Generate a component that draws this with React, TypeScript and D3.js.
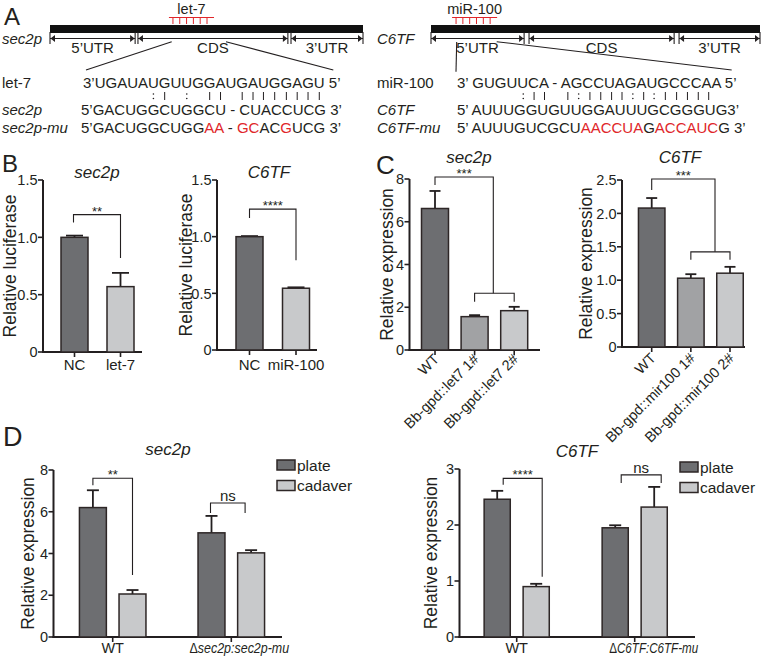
import React from "react";
import * as d3 from "d3";

const FONT = "'Liberation Sans', Arial, Helvetica, sans-serif";
const INK = "#231f20";
const RED = "#e0262a";
const DARK = "#6d6e71";
const MID = "#a1a2a4";
const LIGHT = "#c8c9cb";
const EDGE = "#2d2626";

// ---------- Panel A data ----------
const regionNames = ["5’UTR", "CDS", "3’UTR"];
const leftRegionStart = [0, 28.1, 77.0];
const leftRegionEnd = [27.2, 76.0, 100];
const rightRegionStart = [0, 29.8, 75.4];
const rightRegionEnd = [28.3, 73.9, 100];
const leftSite = [38.0, 52.4];
const rightSite = [6.4, 20.1];
const leftGene = "sec2p";
const rightGene = "C6TF";
const leftMiRNA = "let-7";
const rightMiRNA = "miR-100";

const let7Seq = "3’UGAUAUGUUGGAUGAUGGAGU 5’";
const let7Pairs = "       :| : || ||||||||   ";
const sec2pSeq: [string, number][] = [["5’GACUGGCUGGCU - CUACCUCG 3’", 0]];
const sec2pMuSeq: [string, number][] = [["5’GACUGGCUGG", 0], ["AA", 1], [" - ", 0], ["GC", 1], ["AC", 0], ["G", 1], ["UCG 3’", 0]];
const mir100Seq = "3’ GUGUUCA - AGCCUAGAUGCCCAA 5’";
const mir100Pairs = "       :||   |:||||:|:|||||    ";
const c6tfSeq: [string, number][] = [["5’ AUUUGGUGUUGGAUUUGCGGGUG3’", 0]];
const c6tfMuSeq: [string, number][] = [["5’ AUUUGUCGCU", 0], ["AACCUA", 1], ["G", 0], ["ACCAUC", 1], ["G 3’", 0]];

// ---------- Panel B data ----------
const bTicks = [0, 0.5, 1.0, 1.5];
const bCatsL = ["NC", "let-7"];
const bValsL = [1.0, 0.57];
const bErrL = [0.015, 0.12];
const bCatsR = ["NC", "miR-100"];
const bValsR = [1.0, 0.545];
const bErrR = [0.005, 0.008];
const bSigL = "**";
const bSigR = "****";

// ---------- Panel C data ----------
const cTicksL = [0, 2, 4, 6, 8];
const cCatsL = ["WT", "Bb-gpd::let7 1#", "Bb-gpd::let7 2#"];
const cValsL = [6.62, 1.56, 1.84];
const cErrL = [0.82, 0.07, 0.18];
const cTicksR = [0, 0.5, 1.0, 1.5, 2.0, 2.5];
const cCatsR = ["WT", "Bb-gpd::mir100 1#", "Bb-gpd::mir100 2#"];
const cValsR = [2.08, 1.03, 1.105];
const cErrR = [0.15, 0.06, 0.095];
const cSig = "***";

// ---------- Panel D data ----------
const dSeries = ["plate", "cadaver"];
const dTicksL = [0, 2, 4, 6, 8];
const dGroupsL = ["WT", "sec2p:sec2p-mu"];
const dPlateL = [6.2, 4.99];
const dPlateErrL = [0.83, 0.81];
const dCadL = [2.06, 4.03];
const dCadErrL = [0.19, 0.13];
const dTicksR = [0, 1, 2, 3];
const dGroupsR = ["WT", "C6TF:C6TF-mu"];
const dPlateR = [2.46, 1.95];
const dPlateErrR = [0.15, 0.045];
const dCadR = [0.9, 2.32];
const dCadErrR = [0.05, 0.36];
const dSigL = ["**", "ns"];
const dSigR = ["****", "ns"];

// ---------- helpers ----------
let ctx: CanvasRenderingContext2D | null = null;
function textW(s: string, size: number) {
  if (!ctx) ctx = document.createElement("canvas").getContext("2d");
  ctx!.font = `${size}px 'Liberation Sans', Arial, sans-serif`;
  return ctx!.measureText(s).width;
}

function bandAt(domain: string[], c0: number, c1: number, bw: number) {
  const n = domain.length;
  const step = (c1 - c0) / (n - 1);
  const p = 1 - bw / step;
  return d3.scaleBand<string>().domain(domain).range([c0 - step / 2, c1 + step / 2]).paddingInner(p).paddingOuter(p / 2);
}
const ctr = (x: d3.ScaleBand<string>, k: string) => (x(k) as number) + x.bandwidth() / 2;

function GeneMap({ x0, x1, starts, ends, site, mirna, gene, geneX }: any) {
  const gx = d3.scaleLinear().domain([0, 100]).range([x0, x1]);
  const yl = 38.5;
  const s0 = gx(site[0]), s1 = gx(site[1]);
  const tickXs = d3.range(6).map((i) => s0 + 4 + (i * (s1 - s0 - 11)) / 5);
  return (
    <g>
      <text x={geneX} y={44} fontSize={15} fontStyle="italic">{gene}</text>
      <rect x={x0} y={25} width={x1 - x0} height={8} fill="#111" />
      {regionNames.map((nm, i) => {
        const a = gx(starts[i]), b = gx(ends[i]);
        return (
          <g key={nm}>
            <line x1={a} x2={b} y1={yl} y2={yl} stroke={INK} strokeWidth={1.1} />
            <line x1={a} x2={a} y1={32} y2={44} stroke={INK} strokeWidth={1.1} />
            <line x1={b} x2={b} y1={32} y2={44} stroke={INK} strokeWidth={1.1} />
            <polygon points={`${a + 0.5},${yl} ${a + 5},${yl - 3.5} ${a + 5},${yl + 3.5}`} fill={INK} />
            <polygon points={`${b - 0.5},${yl} ${b - 5},${yl - 3.5} ${b - 5},${yl + 3.5}`} fill={INK} />
            <text x={(a + b) / 2} y={53} fontSize={15} textAnchor="middle">{nm}</text>
          </g>
        );
      })}
      <text x={(s0 + s1) / 2} y={13.5} fontSize={14.5} textAnchor="middle">{mirna}</text>
      <line x1={s0} x2={s1} y1={17.5} y2={17.5} stroke={RED} strokeWidth={1.2} />
      {tickXs.map((t, i) => (
        <line key={i} x1={t} x2={t} y1={17.5} y2={24} stroke={RED} strokeWidth={1} />
      ))}
    </g>
  );
}

function Pairs({ seq, pairs, x0, size }: any) {
  const marks: any[] = [];
  for (let i = 0; i < pairs.length; i++) {
    const c = pairs[i];
    if (c === " ") continue;
    const cx = x0 + textW(seq.slice(0, i), size) + textW(seq[i], size) / 2;
    if (c === "|") marks.push(<line key={i} x1={cx} x2={cx} y1={92} y2={100} stroke={INK} strokeWidth={1} />);
    else
      marks.push(
        <g key={i}>
          <circle cx={cx} cy={94} r={0.8} fill={INK} />
          <circle cx={cx} cy={98.5} r={0.8} fill={INK} />
        </g>
      );
  }
  return <g>{marks}</g>;
}

function Seq({ parts, x, y }: any) {
  return (
    <text x={x} y={y} fontSize={15} style={{ whiteSpace: "pre" }}>
      {parts.map((p: any, i: number) => (
        <tspan key={i} fill={p[1] ? RED : INK}>{p[0]}</tspan>
      ))}
    </text>
  );
}

function YAxis({ y, ticks, x, fmt, label, labelX }: any) {
  const y0 = y(ticks[0]), y1 = y(ticks[ticks.length - 1]);
  return (
    <g>
      <line x1={x} x2={x} y1={y0 + 1} y2={y1} stroke={INK} strokeWidth={2} />
      {ticks.map((t: number) => (
        <g key={t}>
          <line x1={x - 5} x2={x} y1={y(t)} y2={y(t)} stroke={INK} strokeWidth={1.6} />
          <text x={x - 5.5} y={y(t)} dy="0.36em" textAnchor="end" fontSize={14.5}>{fmt(t)}</text>
        </g>
      ))}
      <text transform={`translate(${labelX},${(y0 + y1) / 2}) rotate(-90)`} textAnchor="middle" fontSize={17.5}>{label}</text>
    </g>
  );
}

function XLine({ x0, x1, y0, ticks }: any) {
  return (
    <g>
      <line x1={x0 - 1} x2={x1} y1={y0} y2={y0} stroke={INK} strokeWidth={2} />
      {ticks.map((t: number, i: number) => (
        <line key={i} x1={t} x2={t} y1={y0} y2={y0 + 5} stroke={INK} strokeWidth={1.6} />
      ))}
    </g>
  );
}

function Bar({ x, w, y, v, e, fill, cap }: any) {
  const cx = x + w / 2;
  return (
    <g>
      <line x1={cx} x2={cx} y1={y(v)} y2={y(v + e)} stroke={INK} strokeWidth={1.8} />
      <line x1={cx - cap} x2={cx + cap} y1={y(v + e)} y2={y(v + e)} stroke={INK} strokeWidth={1.8} />
      <rect x={x} y={y(v)} width={w} height={y(0) - y(v)} fill={fill} stroke={EDGE} strokeWidth={1.5} />
    </g>
  );
}

function Bracket({ x1, x2, top, yl, yr, label, ns }: any) {
  return (
    <g>
      <path d={`M${x1},${yl}V${top}H${x2}V${yr}`} fill="none" stroke={INK} strokeWidth={1.1} />
      <text x={(x1 + x2) / 2} y={ns ? top - 2 : top + 1} textAnchor="middle" fontSize={ns ? 15 : 13}>{label}</text>
    </g>
  );
}

function DeltaLabel({ cx, y, name, sx }: any) {
  return (
    <text transform={`translate(${cx},${y}) scale(${sx},1)`} fontSize={14.5} textAnchor="middle">
      <tspan>Δ</tspan>
      <tspan fontStyle="italic">{name}</tspan>
    </text>
  );
}

const fmt1 = (t: number) => (t === 0 ? "0" : t.toFixed(1));
const fmt0 = (t: number) => String(t);

export default function App() {
  // ---- Panel B ----
  const yBL = d3.scaleLinear().domain([0, 1.5]).range([352, 180]);
  const xBL = bandAt(bCatsL, 74.5, 120.5, 27);
  const yBR = d3.scaleLinear().domain([0, 1.5]).range([350, 180]);
  const xBR = bandAt(bCatsR, 249.5, 296, 27);
  const bColors = [DARK, LIGHT];

  // ---- Panel C ----
  const yCL = d3.scaleLinear().domain([0, 8]).range([350, 179]);
  const xCL = bandAt(cCatsL, 435, 514.2, 27);
  const yCR = d3.scaleLinear().domain([0, 2.5]).range([347, 180]);
  const xCR = bandAt(cCatsR, 651.7, 730, 26.5);
  const cColors = [DARK, MID, LIGHT];

  // ---- Panel D ----
  const yDL = d3.scaleLinear().domain([0, 8]).range([637, 470]);
  const x0DL = d3.scaleBand<string>().domain(dGroupsL).range([53.4, 290.6]);
  const x1DL = d3.scaleBand<string>().domain(dSeries).range([19.7, 98.9]).paddingInner(0.32).paddingOuter(0.16);
  const yDR = d3.scaleLinear().domain([0, 3]).range([637, 469]);
  const x0DR = d3.scaleBand<string>().domain(dGroupsR).range([457.7, 693.7]);
  const x1DR = d3.scaleBand<string>().domain(dSeries).range([20, 98]).paddingInner(0.33).paddingOuter(0.165);
  const dColors = [DARK, LIGHT];

  const dBars = (x0: any, x1: any, y: any, groups: string[], plate: number[], pe: number[], cad: number[], ce: number[]) =>
    groups.map((g, gi) => (
      <g key={g}>
        <Bar x={(x0(g) as number) + (x1("plate") as number)} w={x1.bandwidth()} y={y} v={plate[gi]} e={pe[gi]} fill={dColors[0]} cap={6} />
        <Bar x={(x0(g) as number) + (x1("cadaver") as number)} w={x1.bandwidth()} y={y} v={cad[gi]} e={ce[gi]} fill={dColors[1]} cap={6} />
      </g>
    ));
  const sc = (x0: any, x1: any, g: string, s: string) => (x0(g) as number) + (x1(s) as number) + x1.bandwidth() / 2;

  const Legend = ({ x, y }: any) => (
    <g>
      {dSeries.map((s, i) => (
        <g key={s}>
          <rect x={x} y={y + i * 20.5} width={18} height={10} fill={dColors[i]} stroke={EDGE} strokeWidth={1.5} />
          <text x={x + 20} y={y + i * 20.5 + 10.5} fontSize={15.5}>{s}</text>
        </g>
      ))}
    </g>
  );

  return (
    <svg width={762} height={661} style={{ position: "absolute", left: 0, top: 0, background: "#fff" }} fontFamily={FONT} fill={INK}>
      {/* Panel letters */}
      <text x={4} y={25} fontSize={24}>A</text>
      <text x={2} y={172} fontSize={24}>B</text>
      <text x={376} y={174} fontSize={26}>C</text>
      <text x={3} y={446} fontSize={27}>D</text>

      {/* ===== Panel A ===== */}
      <GeneMap x0={50} x1={363} starts={leftRegionStart} ends={leftRegionEnd} site={leftSite} mirna={leftMiRNA} gene={leftGene} geneX={2} />
      <GeneMap x0={431} x1={760} starts={rightRegionStart} ends={rightRegionEnd} site={rightSite} mirna={rightMiRNA} gene={rightGene} geneX={377} />
      <line x1={171.7} y1={41.7} x2={86} y2={70} stroke={INK} strokeWidth={1.1} />
      <line x1={226} y1={41.7} x2={333.3} y2={70} stroke={INK} strokeWidth={1.1} />
      <line x1={456.7} y1={42} x2={456} y2={71.7} stroke={INK} strokeWidth={1.1} />
      <line x1={496.7} y1={41.7} x2={731.7} y2={70} stroke={INK} strokeWidth={1.1} />

      <text x={2} y={88} fontSize={15}>{leftMiRNA}</text>
      <text x={2} y={115} fontSize={15} fontStyle="italic">{leftGene}</text>
      <text x={2} y={133} fontSize={15} fontStyle="italic">{leftGene + "-mu"}</text>
      <Seq parts={[[let7Seq, 0]]} x={83} y={88} />
      <Pairs seq={let7Seq} pairs={let7Pairs} x0={83} size={15} />
      <Seq parts={sec2pSeq} x={81} y={115} />
      <Seq parts={sec2pMuSeq} x={81} y={133} />

      <text x={377} y={88} fontSize={15}>{rightMiRNA}</text>
      <text x={377} y={115} fontSize={15} fontStyle="italic">{rightGene}</text>
      <text x={377} y={133} fontSize={15} fontStyle="italic">{rightGene + "-mu"}</text>
      <Seq parts={[[mir100Seq, 0]]} x={457} y={88} />
      <Pairs seq={mir100Seq} pairs={mir100Pairs} x0={457} size={15} />
      <Seq parts={c6tfSeq} x={457} y={115} />
      <Seq parts={c6tfMuSeq} x={457} y={133} />

      {/* ===== Panel B ===== */}
      <text x={97} y={178} fontSize={17} fontStyle="italic" textAnchor="middle">{leftGene}</text>
      <YAxis y={yBL} ticks={bTicks} x={43} fmt={fmt1} label="Relative luciferase" labelX={16} />
      <XLine x0={43} x1={142} y0={yBL(0)} ticks={bCatsL.map((c) => ctr(xBL, c))} />
      {bCatsL.map((c, i) => (
        <Bar key={c} x={xBL(c)} w={xBL.bandwidth()} y={yBL} v={bValsL[i]} e={bErrL[i]} fill={bColors[i]} cap={8.5} />
      ))}
      {bCatsL.map((c) => (
        <text key={c} x={ctr(xBL, c)} y={370} fontSize={15} textAnchor="middle">{c}</text>
      ))}
      <Bracket x1={ctr(xBL, bCatsL[0]) - 1} x2={ctr(xBL, bCatsL[1])} top={yBL(bValsL[0] + bErrL[0]) - 21} yl={yBL(bValsL[0] + bErrL[0]) - 13} yr={yBL(bValsL[1] + bErrL[1]) - 15} label={bSigL} />

      <text x={269} y={178} fontSize={17} fontStyle="italic" textAnchor="middle">{rightGene}</text>
      <YAxis y={yBR} ticks={bTicks} x={217} fmt={fmt1} label="Relative luciferase" labelX={192} />
      <XLine x0={217} x1={317} y0={yBR(0)} ticks={bCatsR.map((c) => ctr(xBR, c))} />
      {bCatsR.map((c, i) => (
        <Bar key={c} x={xBR(c)} w={xBR.bandwidth()} y={yBR} v={bValsR[i]} e={bErrR[i]} fill={bColors[i]} cap={8.5} />
      ))}
      {bCatsR.map((c) => (
        <text key={c} x={ctr(xBR, c)} y={370} fontSize={15} textAnchor="middle">{c}</text>
      ))}
      <Bracket x1={ctr(xBR, bCatsR[0])} x2={ctr(xBR, bCatsR[1])} top={yBR(bValsR[0] + bErrR[0]) - 27} yl={yBR(bValsR[0] + bErrR[0]) - 18} yr={yBR(bValsR[1] + bErrR[1]) - 27} label={bSigR} />

      {/* ===== Panel C ===== */}
      <text x={469} y={163} fontSize={17} fontStyle="italic" textAnchor="middle">{leftGene}</text>
      <YAxis y={yCL} ticks={cTicksL} x={409.5} fmt={fmt0} label="Relative expression" labelX={393} />
      <XLine x0={409.5} x1={540} y0={yCL(0)} ticks={cCatsL.map((c) => ctr(xCL, c))} />
      {cCatsL.map((c, i) => (
        <Bar key={c} x={xCL(c)} w={xCL.bandwidth()} y={yCL} v={cValsL[i]} e={cErrL[i]} fill={cColors[i]} cap={5.5} />
      ))}
      {cCatsL.map((c) => (
        <text key={c} transform={`translate(${ctr(xCL, c) + 5},${yCL(0) + 10}) rotate(-45)`} fontSize={14.5} textAnchor="end">{c}</text>
      ))}
      <Bracket x1={ctr(xCL, cCatsL[0])} x2={493.3} top={yCL(cValsL[0] + cErrL[0]) - 14} yl={yCL(cValsL[0] + cErrL[0]) - 6} yr={yCL(cValsL[2] + cErrL[2]) - 13.5} label={cSig} />
      <path d={`M${ctr(xCL, cCatsL[1])},${yCL(cValsL[2] + cErrL[2]) - 5}V${yCL(cValsL[2] + cErrL[2]) - 13.5}H${ctr(xCL, cCatsL[2])}V${yCL(cValsL[2] + cErrL[2]) - 5}`} fill="none" stroke={INK} strokeWidth={1.1} />

      <text x={680} y={163} fontSize={17} fontStyle="italic" textAnchor="middle">{rightGene}</text>
      <YAxis y={yCR} ticks={cTicksR} x={622} fmt={fmt1} label="Relative expression" labelX={592} />
      <XLine x0={622} x1={745} y0={yCR(0)} ticks={cCatsR.map((c) => ctr(xCR, c))} />
      {cCatsR.map((c, i) => (
        <Bar key={c} x={xCR(c)} w={xCR.bandwidth()} y={yCR} v={cValsR[i]} e={cErrR[i]} fill={cColors[i]} cap={5.5} />
      ))}
      {cCatsR.map((c) => (
        <text key={c} transform={`translate(${ctr(xCR, c) + 5},${yCR(0) + 12}) rotate(-45)`} fontSize={14.5} textAnchor="end">{c}</text>
      ))}
      <Bracket x1={ctr(xCR, cCatsR[0])} x2={715} top={yCR(cValsR[0] + cErrR[0]) - 19} yl={yCR(cValsR[0] + cErrR[0]) - 8} yr={yCR(cValsR[2] + cErrR[2]) - 15} label={cSig} />
      <path d={`M${ctr(xCR, cCatsR[1])},${yCR(cValsR[2] + cErrR[2]) - 7}V${yCR(cValsR[2] + cErrR[2]) - 15}H${ctr(xCR, cCatsR[2])}V${yCR(cValsR[2] + cErrR[2]) - 7}`} fill="none" stroke={INK} strokeWidth={1.1} />

      {/* ===== Panel D ===== */}
      <text x={168} y={455} fontSize={17} fontStyle="italic" textAnchor="middle">{leftGene}</text>
      <YAxis y={yDL} ticks={dTicksL} x={53.5} fmt={fmt0} label="Relative expression" labelX={34} />
      <XLine x0={53.5} x1={282} y0={yDL(0)} ticks={dGroupsL.map((g) => ctr(x0DL, g))} />
      {dBars(x0DL, x1DL, yDL, dGroupsL, dPlateL, dPlateErrL, dCadL, dCadErrL)}
      <text x={ctr(x0DL, dGroupsL[0])} y={653} fontSize={14.5} textAnchor="middle">{dGroupsL[0]}</text>
      <DeltaLabel cx={ctr(x0DL, dGroupsL[1]) + 8} y={653} name={dGroupsL[1]} sx={0.86} />
      <Bracket x1={sc(x0DL, x1DL, dGroupsL[0], "plate")} x2={sc(x0DL, x1DL, dGroupsL[0], "cadaver")} top={yDL(dPlateL[0] + dPlateErrL[0]) - 12} yl={yDL(dPlateL[0] + dPlateErrL[0]) - 5} yr={yDL(dCadL[0] + dCadErrL[0]) - 15} label={dSigL[0]} />
      <Bracket x1={sc(x0DL, x1DL, dGroupsL[1], "plate") - 1} x2={sc(x0DL, x1DL, dGroupsL[1], "cadaver") - 6} top={yDL(dPlateL[1] + dPlateErrL[1]) - 13} yl={yDL(dPlateL[1] + dPlateErrL[1]) - 3} yr={yDL(dPlateL[1] + dPlateErrL[1]) - 3} label={dSigL[1]} ns />
      <Legend x={277} y={460} />

      <text x={577} y={457} fontSize={17} fontStyle="italic" textAnchor="middle">{rightGene}</text>
      <YAxis y={yDR} ticks={dTicksR} x={459.5} fmt={fmt0} label="Relative expression" labelX={437} />
      <XLine x0={459.5} x1={695} y0={yDR(0)} ticks={dGroupsR.map((g) => ctr(x0DR, g))} />
      {dBars(x0DR, x1DR, yDR, dGroupsR, dPlateR, dPlateErrR, dCadR, dCadErrR)}
      <text x={ctr(x0DR, dGroupsR[0])} y={653} fontSize={14.5} textAnchor="middle">{dGroupsR[0]}</text>
      <DeltaLabel cx={ctr(x0DR, dGroupsR[1]) + 19} y={653} name={dGroupsR[1]} sx={0.8} />
      <Bracket x1={sc(x0DR, x1DR, dGroupsR[0], "plate") + 6} x2={sc(x0DR, x1DR, dGroupsR[0], "cadaver") + 6} top={yDR(dPlateR[0] + dPlateErrR[0]) - 12.5} yl={yDR(dPlateR[0] + dPlateErrR[0]) - 6} yr={yDR(dCadR[0] + dCadErrR[0]) - 7} label={dSigR[0]} />
      <Bracket x1={sc(x0DR, x1DR, dGroupsR[1], "plate") + 6} x2={sc(x0DR, x1DR, dGroupsR[1], "cadaver") + 7} top={yDR(dCadR[1] + dCadErrR[1]) - 12} yl={yDR(dCadR[1] + dCadErrR[1]) - 4} yr={yDR(dCadR[1] + dCadErrR[1]) - 4} label={dSigR[1]} ns />
      <Legend x={680} y={462} />
    </svg>
  );
}
